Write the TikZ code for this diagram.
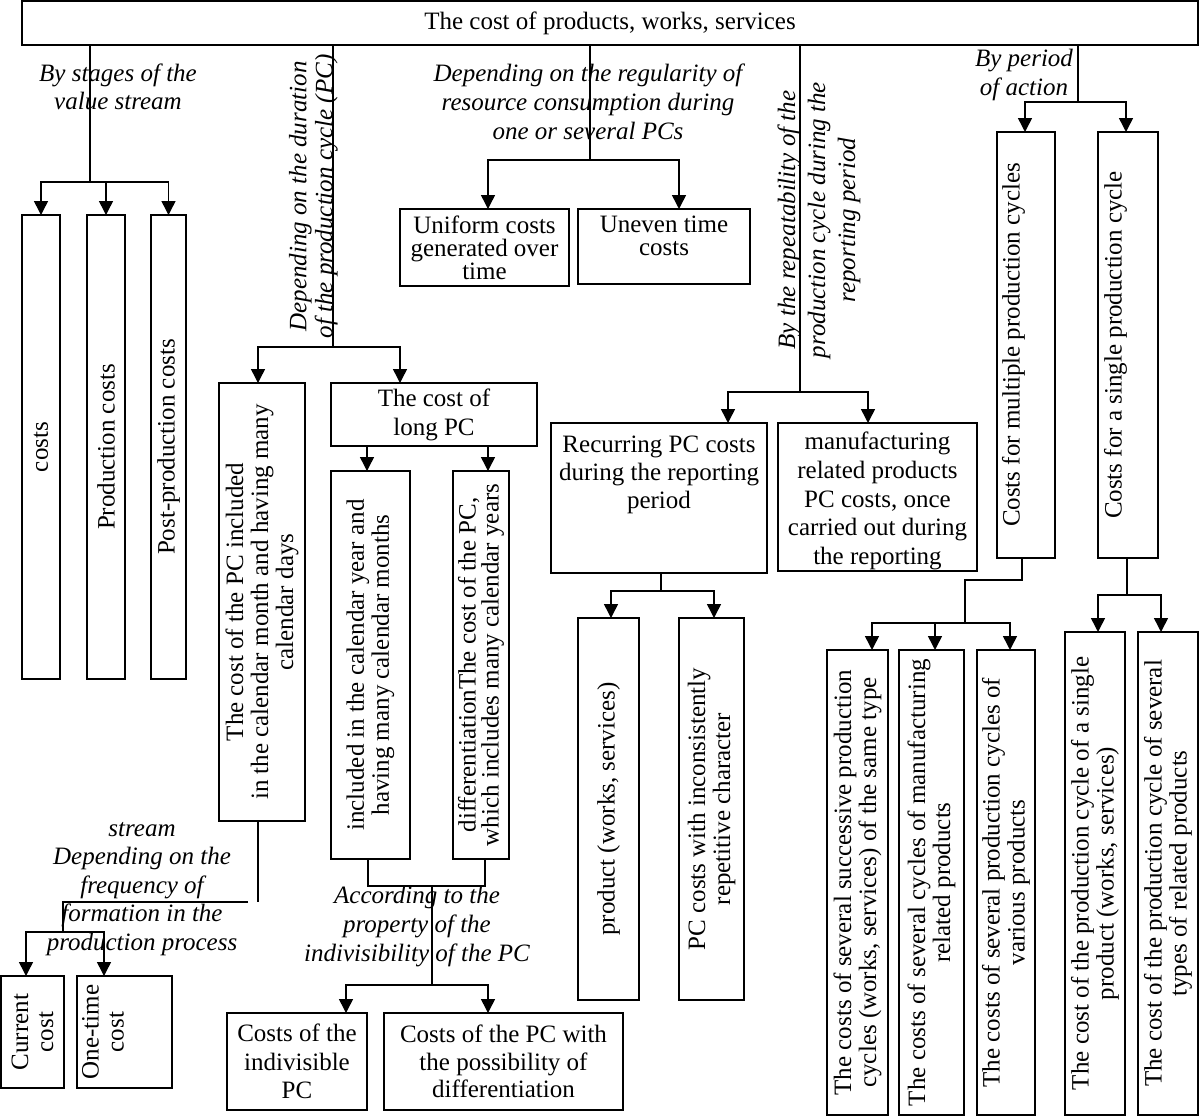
\documentclass[tikz,border=0pt]{standalone}
\usepackage{fontspec}
\setmainfont{Liberation Serif}
\usepackage{graphicx}
\usetikzlibrary{arrows.meta}
\newcommand\lsp[1]{\fontsize{25}{#1}\selectfont}
% horizontal box content: width, height, inner pos, baselineskip, text
\newcommand\hbx[5]{\parbox[c][#2pt][#3]{#1pt}{\centering\lsp{#4}#5}}
% rotated box content: length (page height), thickness (page width), inner pos, baselineskip, text
\newcommand\vbx[5]{\rotatebox{90}{\parbox[c][#2pt][#3]{#1pt}{\centering\lsp{#4}#5}}}
\tikzset{
  box/.style={draw, line width=1.5pt, inner sep=0pt, outer sep=0pt},
  lbl/.style={inner sep=0pt, align=center, font=\itshape\lsp{#1}},
  conn/.style={line width=1.5pt},
  arr/.style={line width=1.5pt, -{Triangle[width=14pt,length=14pt]}},
}
\begin{document}
\begin{tikzpicture}[x=1pt,y=-1pt]
\useasboundingbox (0,0) rectangle (1200,1117);

% ---------- boxes ----------
\node[box] (top) at (610,23) {\hbx{1176}{44}{c}{28}{The cost of products, works, services}};

\node[box] (b1) at (41,447)    {\vbx{464}{38}{c}{25}{costs}};
\node[box] (b2) at (106,447)   {\vbx{464}{38}{c}{25}{Production costs}};
\node[box] (b3) at (168.5,447) {\vbx{464}{35}{c}{25}{Post-production costs}};

\node[box] (c1) at (262,602)   {\vbx{438}{86}{c}{25}{The cost of the PC included\\in the calendar month and having many\\calendar days}};
\node[box] (c2) at (434,414.5) {\hbx{206}{63}{c}{29}{The cost of\\long PC}};
\node[box] (d1) at (370.5,665) {\vbx{388}{79}{c}{25}{included in the calendar year and\\having many calendar months}};
\node[box] (d2) at (481,665)   {\vbx{388}{56}{c}{23}{differentiationThe cost of the PC,\\which includes many calendar years}};
\node[box] (e1) at (297,1061.5)   {\hbx{140}{97}{c}{28.5}{Costs of the\\indivisible\\PC}};
\node[box] (e2) at (503.5,1061.5) {\hbx{239}{97}{c}{27.5}{Costs of the PC with\\the possibility of\\differentiation}};

\node[box] (f1) at (32.5,1032)  {\vbx{112}{63}{c}{25}{Current\\cost}};
\node[box] (f2) at (124.5,1032) {\vbx{112}{95}{t}{25}{\vspace*{5pt}One-time\\cost}};

\node[box] (g1) at (484.5,247.5) {\hbx{169}{77}{c}{23}{Uniform costs\\generated over\\time}};
\node[box] (g2) at (664,246.5)   {\hbx{172}{75}{t}{23}{\vspace*{7pt}Uneven time\\costs}};

\node[box] (h1) at (659,498)   {\hbx{216}{150}{t}{28}{\vspace*{13pt}Recurring PC costs\\during the reporting\\period}};
\node[box] (h2) at (877.5,497) {\hbx{199}{148}{t}{28.7}{\vspace*{9pt}manufacturing\\related products\\PC costs, once\\carried out during\\the reporting}};

\node[box] (i1) at (608.5,809) {\vbx{382}{61}{c}{25}{product (works, services)}};
\node[box] (i2) at (711.5,809) {\vbx{382}{65}{c}{25}{PC costs with inconsistently\\repetitive character}};

\node[box] (k1) at (1026,345) {\vbx{426}{58}{t}{25}{\vspace*{5pt}Costs for multiple production cycles}};
\node[box] (k2) at (1128,345) {\vbx{426}{60}{t}{25}{\vspace*{6pt}Costs for a single production cycle}};

\node[box] (m1) at (857.5,882.5) {\vbx{465}{61}{c}{25}{The costs of several successive production\\cycles (works, services) of the same type}};
\node[box] (m2) at (931.5,882.5) {\vbx{465}{65}{c}{25}{The costs of several cycles of manufacturing\\related products}};
\node[box] (m3) at (1006,882.5)  {\vbx{465}{58}{c}{25}{The costs of several production cycles of\\various products}};
\node[box] (n1) at (1095,873.5)  {\vbx{483}{60}{c}{25}{The cost of the production cycle of a single\\product (works, services)}};
\node[box] (n2) at (1168,873.5)  {\vbx{483}{60}{c}{25}{The cost of the production cycle of several\\types of related products}};

% ---------- labels ----------
\node[lbl=28] (l1) at (118,87) {By stages of the\\value stream};
\node[lbl=26, rotate=90] (l2) at (313.5,196.5) {Depending on the duration\\of the production cycle (PC)};
\node[lbl=29] (l3) at (588,101.5) {Depending on the regularity of\\resource consumption during\\one or several PCs};
\node[lbl=30, rotate=90] (l4) at (819,220) {By the repeatability of the\\production cycle during the\\reporting period};
\node[lbl=29] (l5) at (1024,75) {By period\\of action};
\node[lbl=28.5] (l6) at (142,889) {stream\\Depending on the\\frequency of\\formation in the\\production process};
\node[lbl=29] (l7) at (417,926.5) {According to the\\property of the\\indivisibility of the PC};

% ---------- connectors ----------
% by stages
\coordinate (j1) at (90,182);
\draw[conn] (top.south -| j1) -- (j1);
\draw[arr] (j1) -| (b1);
\draw[arr] (j1) -| (b2);
\draw[arr] (j1) -| (b3);

% by duration
\coordinate (j2) at (333,347);
\coordinate (t2a) at (258,347);
\coordinate (t2b) at (400,347);
\draw[conn] (top.south -| j2) -- (j2);
\draw[arr] (j2) -- (t2a) -- (t2a |- c1.north);
\draw[arr] (j2) -- (t2b) -- (t2b |- c2.north);

\coordinate (t3a) at (367,460);
\coordinate (t3b) at (488,460);
\draw[arr] (t3a |- c2.south) -- (t3a |- d1.north);
\draw[arr] (t3b |- c2.south) -- (t3b |- d2.north);

\coordinate (u1) at (368,886);
\coordinate (u2) at (485,886);
\coordinate (u3) at (432,886);
\coordinate (j4) at (432,985);
\coordinate (t4a) at (346,985);
\coordinate (t4b) at (488,985);
\draw[conn] (u1 |- d1.south) -- (u1) -- (u2) -- (u2 |- d2.south);
\draw[conn] (u3) -- (j4);
\draw[arr] (j4) -- (t4a) -- (t4a |- e1.north);
\draw[arr] (j4) -- (t4b) -- (t4b |- e2.north);

% by frequency
\coordinate (v1) at (258,902);
\coordinate (v2) at (248,902);
\coordinate (v3) at (63,902);
\coordinate (j5) at (63,932);
\coordinate (t5a) at (26,932);
\coordinate (t5b) at (104,932);
\draw[conn] (v1 |- c1.south) -- (v1);
\draw[conn] (v2) -- (v3) -- (j5);
\draw[arr] (j5) -- (t5a) -- (t5a |- f1.north);
\draw[arr] (j5) -- (t5b) -- (t5b |- f2.north);

% by regularity
\coordinate (j3) at (590,160);
\coordinate (t6a) at (488,160);
\coordinate (t6b) at (679,160);
\draw[conn] (top.south -| j3) -- (j3);
\draw[arr] (j3) -- (t6a) -- (t6a |- g1.north);
\draw[arr] (j3) -- (t6b) -- (t6b |- g2.north);

% by repeatability
\coordinate (j6) at (800,392);
\coordinate (t7a) at (728,392);
\coordinate (t7b) at (868,392);
\draw[conn] (top.south -| j6) -- (j6);
\draw[arr] (j6) -- (t7a) -- (t7a |- h1.north);
\draw[arr] (j6) -- (t7b) -- (t7b |- h2.north);

\coordinate (j7) at (661,591);
\coordinate (t8a) at (611,591);
\coordinate (t8b) at (714,591);
\draw[conn] (j7 |- h1.south) -- (j7);
\draw[arr] (j7) -- (t8a) -- (t8a |- i1.north);
\draw[arr] (j7) -- (t8b) -- (t8b |- i2.north);

% by period of action
\coordinate (j8) at (1078,102);
\coordinate (t9a) at (1025,102);
\coordinate (t9b) at (1126,102);
\draw[conn] (top.south -| j8) -- (j8);
\draw[arr] (j8) -- (t9a) -- (t9a |- k1.north);
\draw[arr] (j8) -- (t9b) -- (t9b |- k2.north);

\coordinate (w1) at (1022,580);
\coordinate (w2) at (965,580);
\coordinate (j9) at (965,623);
\coordinate (t10a) at (872,623);
\coordinate (t10b) at (935,623);
\coordinate (t10c) at (1010,623);
\draw[conn] (w1 |- k1.south) -- (w1) -- (w2) -- (j9);
\draw[arr] (j9) -- (t10a) -- (t10a |- m1.north);
\draw[arr] (j9) -- (t10b) -- (t10b |- m2.north);
\draw[arr] (j9) -- (t10c) -- (t10c |- m3.north);

\coordinate (j10) at (1127,595);
\coordinate (t11a) at (1098,595);
\coordinate (t11b) at (1161,595);
\draw[conn] (j10 |- k2.south) -- (j10);
\draw[arr] (j10) -- (t11a) -- (t11a |- n1.north);
\draw[arr] (j10) -- (t11b) -- (t11b |- n2.north);
\end{tikzpicture}
\end{document}
